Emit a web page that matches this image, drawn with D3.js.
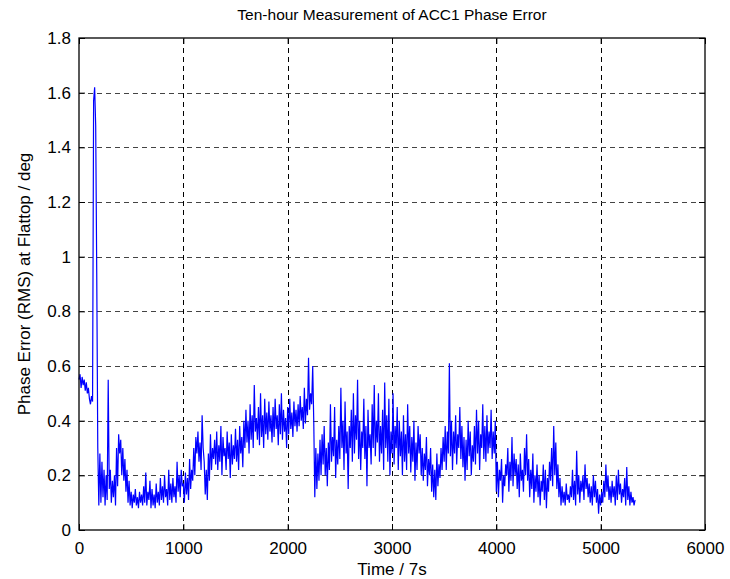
<!DOCTYPE html>
<html>
<head>
<meta charset="utf-8">
<script src="https://cdn.jsdelivr.net/npm/d3@7"></script>
<style>
  body { margin: 0; background: #fff; }
  text { font-family: "Liberation Sans", Arial, sans-serif; fill: #000; }
</style>
</head>
<body>
<div id="chart"></div>
<script>
var step = 10;
var phase = [
  55,57,52,56,53,55,51,54,50,52,
  48,46,49,47,157,162,148,94,30,9,
  28,10,25,12,22,9,20,11,55,15,
  22,10,18,12,20,9,30,16,35,28,
  33,20,30,18,26,14,22,10,18,9,
  14,8,13,10,15,9,12,8,14,10,
  13,9,16,10,21,9,14,11,18,8,
  15,9,13,8,17,10,14,9,19,11,
  16,10,20,12,15,9,22,11,17,10,
  19,12,16,10,25,14,20,12,22,16,
  17,10,21,13,19,11,26,15,22,18,
  30,20,34,28,36,25,32,22,42,30,
  25,13,22,11,28,18,35,22,30,26,
  33,24,36,22,31,25,38,20,34,27,
  30,22,36,26,32,19,35,24,31,26,
  37,25,33,22,38,28,34,23,40,30,
  44,32,40,28,46,33,42,30,53,36,
  41,33,45,31,50,34,42,30,48,35,
  43,33,47,36,42,32,45,34,48,37,
  42,31,46,35,50,33,44,36,41,30,
  45,35,48,37,43,34,47,38,44,36,
  46,38,49,40,45,37,52,39,48,42,
  63,44,50,46,60,40,12,30,15,28,
  18,33,20,35,24,38,20,30,16,32,
  22,46,25,34,27,45,19,33,24,38,
  26,52,30,40,22,47,28,36,15,38,
  30,44,25,50,28,42,33,55,26,40,
  22,36,30,48,26,38,16,44,30,35,
  24,46,30,53,27,40,32,50,25,38,
  28,44,22,54,30,42,25,48,20,36,
  28,50,24,38,30,45,22,40,27,36,
  20,42,25,35,22,46,28,38,21,34,
  25,40,18,32,22,38,28,35,20,30,
  18,28,22,34,16,26,20,30,14,24,
  12,22,11,28,16,24,19,30,22,34,
  25,38,22,36,28,61,27,40,22,36,
  28,42,24,35,30,45,26,38,23,34,
  18,33,22,40,27,36,20,31,25,38,
  24,44,28,40,22,35,30,46,26,38,
  25,42,28,36,30,44,26,36,28,40,
  14,25,12,22,18,26,10,20,16,24,
  20,30,14,25,18,34,16,28,20,26,
  15,24,12,28,18,22,14,30,20,35,
  18,26,12,22,15,28,10,20,14,24,
  12,20,9,18,14,24,11,22,8,19,
  14,25,18,30,16,38,20,32,15,24,
  12,19,9,16,10,14,9,17,11,13,
  10,16,12,22,11,18,9,29,13,20,
  10,18,14,20,11,24,15,19,12,17,
  10,16,9,20,12,18,10,15,6,13,
  9,14,10,18,12,24,14,20,11,16,
  10,18,12,16,9,20,11,22,13,17,
  10,15,12,19,9,23,11,16,9,14,
  10,12,9,11
];
var xTicks = [0, 1000, 2000, 3000, 4000, 5000, 6000];
var yTicks = [0, 0.2, 0.4, 0.6, 0.8, 1, 1.2, 1.4, 1.6, 1.8];

var W = 730, H = 579;
var margin = { left: 79, right: 25, top: 38, bottom: 49 };

var svg = d3.select("#chart").append("svg")
  .attr("width", W)
  .attr("height", H);

var x = d3.scaleLinear().domain([0, 6000]).range([margin.left, W - margin.right]);
var y = d3.scaleLinear().domain([0, 1.8]).range([H - margin.bottom, margin.top]);

var x0 = x(0), x1 = x(6000), y0 = y(0), y1 = y(1.8);

// grid
svg.append("g")
  .selectAll("line")
  .data(xTicks.slice(1, -1))
  .enter()
  .append("line")
  .attr("x1", function (d) { return Math.round(x(d)) + 0.5; })
  .attr("x2", function (d) { return Math.round(x(d)) + 0.5; })
  .attr("y1", y0)
  .attr("y2", y1)
  .attr("stroke", "#000")
  .attr("stroke-dasharray", "5,4");

svg.append("g")
  .selectAll("line")
  .data(yTicks.slice(1, -1))
  .enter()
  .append("line")
  .attr("x1", x0)
  .attr("x2", x1)
  .attr("y1", function (d) { return Math.round(y(d)) + 0.5; })
  .attr("y2", function (d) { return Math.round(y(d)) + 0.5; })
  .attr("stroke", "#444")
  .attr("stroke-dasharray", "5,4");

// data line
var line = d3.line()
  .x(function (d, i) { return x(i * step); })
  .y(function (d) { return y(d / 100); });

svg.append("path")
  .datum(phase)
  .attr("fill", "none")
  .attr("stroke", "#0000ff")
  .attr("stroke-width", 1.2)
  .attr("d", line);

// axes, ticks inside on all four sides
var tick = 6;
svg.append("g")
  .attr("transform", "translate(0," + y0 + ")")
  .call(d3.axisBottom(x).tickValues(xTicks).tickSizeInner(-tick).tickSizeOuter(0).tickPadding(12)
    .tickFormat(d3.format("d")))
  .call(function (g) {
    g.select(".domain").remove();
    g.selectAll("text").attr("font-size", 17).attr("font-family", "Liberation Sans, Arial, sans-serif");
  });

svg.append("g")
  .attr("transform", "translate(0," + y1 + ")")
  .call(d3.axisTop(x).tickValues(xTicks).tickSizeInner(-tick).tickSizeOuter(0).tickFormat(""))
  .call(function (g) { g.select(".domain").remove(); });

svg.append("g")
  .attr("transform", "translate(" + x0 + ",0)")
  .call(d3.axisLeft(y).tickValues(yTicks).tickSizeInner(-tick).tickSizeOuter(0).tickPadding(8)
    .tickFormat(function (d) { return String(+d.toFixed(1)); }))
  .call(function (g) {
    g.select(".domain").remove();
    g.selectAll("text").attr("font-size", 17).attr("font-family", "Liberation Sans, Arial, sans-serif");
  });

svg.append("g")
  .attr("transform", "translate(" + x1 + ",0)")
  .call(d3.axisRight(y).tickValues(yTicks).tickSizeInner(-tick).tickSizeOuter(0).tickFormat(""))
  .call(function (g) { g.select(".domain").remove(); });

svg.append("rect")
  .attr("x", x0)
  .attr("y", y1)
  .attr("width", x1 - x0)
  .attr("height", y0 - y1)
  .attr("fill", "none")
  .attr("stroke", "#000")
  .attr("stroke-width", 1.3);

// labels
svg.append("text")
  .attr("x", (x0 + x1) / 2)
  .attr("y", 20)
  .attr("text-anchor", "middle")
  .attr("font-size", 15.5)
  .text("Ten-hour Measurement of ACC1 Phase Error");

svg.append("text")
  .attr("x", (x0 + x1) / 2)
  .attr("y", 575)
  .attr("text-anchor", "middle")
  .attr("font-size", 17)
  .text("Time / 7s");

svg.append("text")
  .attr("transform", "translate(30," + (y0 + y1) / 2 + ") rotate(-90)")
  .attr("text-anchor", "middle")
  .attr("font-size", 17)
  .text("Phase Error (RMS) at Flattop / deg");
</script>
</body>
</html>
